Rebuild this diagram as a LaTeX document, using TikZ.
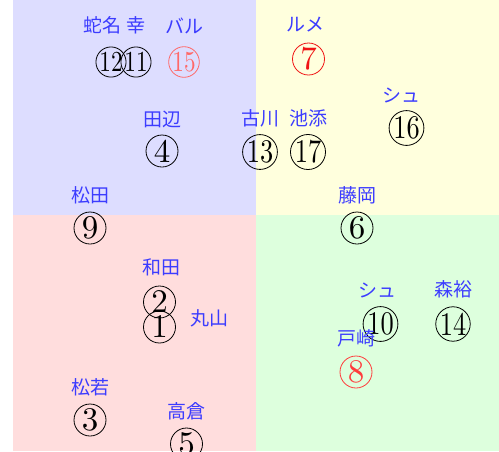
\documentclass[tikz,border=0pt]{standalone}
\usepackage{fontspec}
\newfontfamily\jpfont{Noto Sans CJK JP}
\newfontfamily\numfont{lmroman10-regular.otf}
\usetikzlibrary{positioning}

\definecolor{qblue}{RGB}{221,221,255}
\definecolor{qyellow}{RGB}{255,255,221}
\definecolor{qred}{RGB}{255,221,221}
\definecolor{qgreen}{RGB}{221,255,221}
\definecolor{jockeyblue}{RGB}{60,60,255}
\definecolor{hotred}{RGB}{240,20,20}
\definecolor{midred}{RGB}{255,60,60}
\definecolor{lightred}{RGB}{255,105,105}

\newcommand{\twodig}[1]{\scalebox{0.8}[1]{#1}}

\tikzset{
  horse/.style={draw, circle, line width=0.8pt, inner sep=0pt,
    minimum size=32pt, font=\numfont\fontsize{33}{33}\selectfont},
  smallhorse/.style={minimum size=29pt, font=\numfont\fontsize{29}{29}\selectfont},
  jockey/.style={text=jockeyblue, inner sep=0pt,
    font=\jpfont\fontsize{19}{19}\selectfont},
}

\begin{document}
\begin{tikzpicture}[x=1pt, y=-1pt]
  \useasboundingbox (0,0) rectangle (499,451);
  \fill[qblue] (13,0) rectangle (256,215);
  \fill[qyellow] (256,0) rectangle (499,215);
  \fill[qred] (13,215) rectangle (256,451);
  \fill[qgreen] (256,215) rectangle (499,451);

  % top row
  \node[horse, smallhorse] (c12) at (111,62) {\twodig{12}};
  \node[horse, smallhorse] (c11) at (136,62) {\twodig{11}};
  \node[horse, smallhorse, draw=lightred, text=lightred] (c15) at (184,62) {\twodig{15}};
  \node[horse, draw=hotred, text=hotred] (c7) at (308.5,59) {7};
  \node[jockey, above=12pt of c12, xshift=-9pt] (j12) {蛇名};
  \node[jockey, above=12pt of c11] (j11) {幸};
  \node[jockey, above=12pt of c15] (j15) {バル};
  \node[jockey, above=10pt of c7, xshift=-3pt] (j7) {ルメ};

  \node[horse] (c16) at (406.5,128) {\twodig{16}};
  \node[jockey, above=7pt of c16, xshift=-5pt] (j16) {シュ};
  \node[horse] (c4) at (162,151) {4};
  \node[jockey, above=7pt of c4] (j4) {田辺};
  \node[horse] (c13) at (260,152) {\twodig{13}};
  \node[jockey, above=7pt of c13] (j13) {古川};
  \node[horse] (c17) at (308,152) {\twodig{17}};
  \node[jockey, above=7pt of c17] (j17) {池添};

  \node[horse] (c9) at (90,228) {9};
  \node[jockey, above=7pt of c9] (j9) {松田};
  \node[horse] (c6) at (357,228) {6};
  \node[jockey, above=7pt of c6] (j6) {藤岡};

  \node[horse] (c2) at (159.5,302) {2};
  \node[jockey, above=9pt of c2, xshift=2pt] (j2) {和田};
  \node[horse] (c1) at (159.5,327) {1};
  \node[jockey, right=14pt of c1, yshift=9pt] (j1) {丸山};

  \node[horse] (c10) at (380.5,324) {\twodig{10}};
  \node[jockey, above=8pt of c10, xshift=-3pt] (j10) {シュ};
  \node[horse] (c14) at (453,324) {\twodig{14}};
  \node[jockey, above=8pt of c14] (j14) {森裕};
  \node[horse, draw=midred, text=midred] (c8) at (356,372) {8};
  \node[jockey, above=8pt of c8] (j8) {戸崎};

  \node[horse] (c3) at (90,420) {3};
  \node[jockey, above=7pt of c3] (j3) {松若};
  \node[horse] (c5) at (186.5,444) {5};
  \node[jockey, above=7pt of c5] (j5) {高倉};
\end{tikzpicture}
\end{document}
